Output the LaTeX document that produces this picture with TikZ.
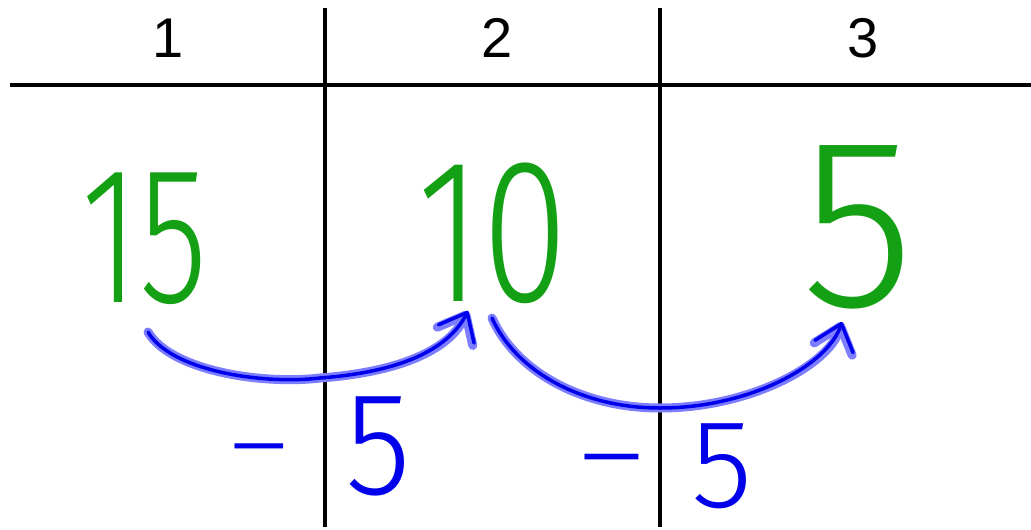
\documentclass[tikz,border=0pt]{standalone}
\usepackage{fontspec}
\setmainfont{Liberation Sans}
\IfFontExistsTF{Fira Sans Light}{\newfontfamily\hand{Fira Sans Light}}{\newfontfamily\hand{Fira Sans}}
\usetikzlibrary{arrows.meta}
\definecolor{gcore}{RGB}{20,160,20}
\definecolor{bcore}{RGB}{0,0,235}
\definecolor{bglow}{RGB}{125,125,255}
\begin{document}
\begin{tikzpicture}[x=1pt,y=-1pt,
  rule/.style={line width=4pt,black},
  head/.style={font=\fontsize{56}{56}\selectfont, inner sep=0pt},
  gnum/.style={text=gcore, inner sep=0pt},
  bnum/.style={text=bcore, inner sep=0pt},
  glowarrow/.style={line width=9pt, bglow, line cap=round,
    -{Straight Barb[round, length=24pt, width=40pt]}},
  corearrow/.style={line width=3.5pt, bcore, line cap=round,
    -{Straight Barb[round, length=24pt, width=40pt]}}]
\useasboundingbox (0,0) rectangle (1031,530);
% grid
\coordinate (hl) at (10,85);
\coordinate (hr) at (1031,85);
\coordinate (v1t) at (325,8);
\coordinate (v1b) at (325,527);
\coordinate (v2t) at (660,8);
\coordinate (v2b) at (660,527);
\draw[rule] (hl) -- (hr);
\draw[rule] (v1t) -- (v1b);
\draw[rule] (v2t) -- (v2b);
% headers
\node[head] (h1) at (168,38) {1};
\node[head] (h2) at (497,38) {2};
\node[head] (h3) at (863,38) {3};
% green numbers
\node[gnum] (n15) at (145,239) {\hand\fontsize{195}{195}\selectfont\scalebox{0.72}[1]{15}};
\node[gnum] (n10) at (493,233) {\hand\fontsize{205}{205}\selectfont\scalebox{0.76}[1]{10}};
\node[gnum] (n5) at (858,227) {\hand\fontsize{242}{242}\selectfont\scalebox{0.96}[1]{5}};
% blue labels
\node[bnum] (m1) at (259,462) {\hand\fontsize{100}{100}\selectfont\scalebox{1.37}[1]{−}};
\node[bnum] (f1) at (378,446) {\hand\fontsize{147}{147}\selectfont\scalebox{0.92}[1]{5}};
\node[bnum] (m2) at (612,474) {\hand\fontsize{110}{110}\selectfont\scalebox{1.38}[1]{−}};
\node[bnum] (f2) at (722,466) {\hand\fontsize{126}{126}\selectfont 5};
% arrows
\coordinate (s1) at (148,332);
\coordinate (t1) at (468,311);
\coordinate (s2) at (492,318);
\coordinate (t2) at (842,322);
\foreach \st in {glowarrow,corearrow}{
  \draw[\st] (s1) .. controls (170,370) and (260,385) .. (320,378)
     .. controls (400,372) and (448,350) .. (t1);
  \draw[\st] (s2) .. controls (515,370) and (580,408) .. (660,408)
     .. controls (750,408) and (828,365) .. (t2);
}
\end{tikzpicture}
\end{document}
